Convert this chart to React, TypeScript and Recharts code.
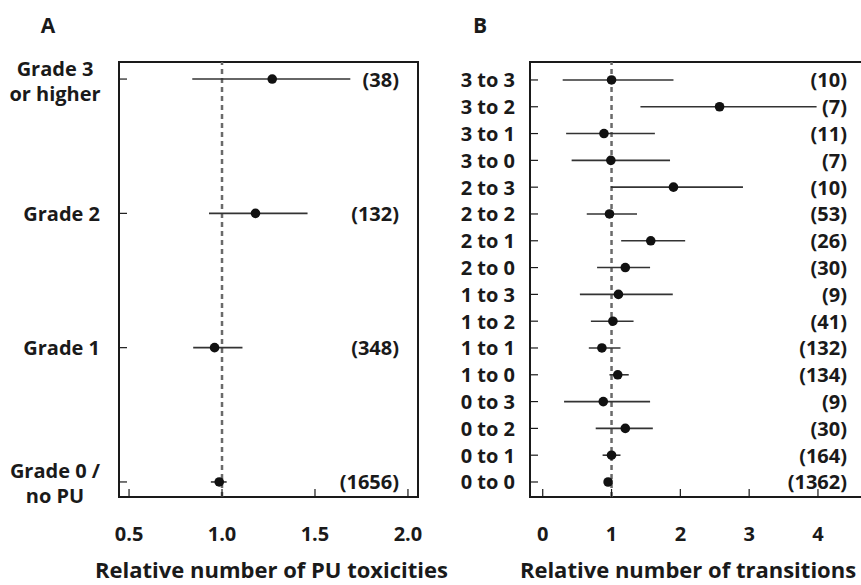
import {
  ScatterChart, Scatter, XAxis, YAxis, ErrorBar, ReferenceLine, ReferenceArea,
} from 'recharts';

const gradeLabels = ['Grade 3\nor higher', 'Grade 2', 'Grade 1', 'Grade 0 /\nno PU'];
const gradeCounts = [38, 132, 348, 1656];
const gradeEst = [1.27, 1.18, 0.96, 0.985];
const gradeLow = [0.84, 0.93, 0.845, 0.94];
const gradeHigh = [1.69, 1.46, 1.11, 1.025];
const gradeTicks = [0.5, 1.0, 1.5, 2.0];

const transLabels = [
  '3 to 3', '3 to 2', '3 to 1', '3 to 0',
  '2 to 3', '2 to 2', '2 to 1', '2 to 0',
  '1 to 3', '1 to 2', '1 to 1', '1 to 0',
  '0 to 3', '0 to 2', '0 to 1', '0 to 0',
];
const transCounts = [10, 7, 11, 7, 10, 53, 26, 30, 9, 41, 132, 134, 9, 30, 164, 1362];
const transEst = [1.0, 2.57, 0.89, 0.99, 1.9, 0.97, 1.57, 1.2, 1.1, 1.02, 0.86, 1.09, 0.88, 1.2, 1.0, 0.95];
const transLow = [0.29, 1.42, 0.34, 0.42, 0.99, 0.64, 1.14, 0.79, 0.54, 0.7, 0.67, 0.97, 0.31, 0.77, 0.87, 0.93];
const transHigh = [1.9, 3.98, 1.63, 1.85, 2.91, 1.37, 2.07, 1.56, 1.89, 1.32, 1.13, 1.25, 1.56, 1.6, 1.13, 0.97];
const transTicks = [0, 1, 2, 3, 4];

const FONT = '"Open Sans", Lato, sans-serif';
const INK = '#1a1a1a';
const TICK_FS = 20;

const toRows = (est: number[], low: number[], high: number[]) =>
  est.map((x, i) => ({ x, y: i, err: [x - low[i], high[i] - x] }));

const gradeData = toRows(gradeEst, gradeLow, gradeHigh);
const transData = toRows(transEst, transLow, transHigh);

const Dot = (p: any) => <circle cx={p.cx} cy={p.cy} r={4.8} fill="#111" />;

const XTick = ({ x, y, payload, fmt }: any) => (
  <g>
    <line x1={x} x2={x} y1={y} y2={y - 8} stroke={INK} strokeWidth={1.2} />
    <text x={x} y={y + 36} textAnchor="middle" dominantBaseline="central"
      fontFamily={FONT} fontWeight={700} fontSize={TICK_FS} fill={INK}>
      {fmt(payload.value)}
    </text>
  </g>
);

const YTick = ({ x, y, payload, labels, counts, countX, labelGap, multiCenter }: any) => {
  const lines: string[] = labels[payload.value].split('\n');
  const txt = { fontFamily: FONT, fontWeight: 700, fontSize: TICK_FS, fill: INK, dominantBaseline: 'central' as const };
  return (
    <g>
      <line x1={x} x2={x + 8} y1={y} y2={y} stroke={INK} strokeWidth={1.2} />
      {lines.length === 1 ? (
        <text x={x - labelGap} y={y} textAnchor="end" {...txt}>{lines[0]}</text>
      ) : (
        lines.map((l, i) => (
          <text key={i} x={x - multiCenter} y={y - 11 + 25 * i} textAnchor="middle" {...txt}>{l}</text>
        ))
      )}
      <text x={x + countX} y={y} textAnchor="end" {...txt}>({counts[payload.value]})</text>
    </g>
  );
};

const boxStroke = { stroke: INK, strokeWidth: 2, fill: 'none' };

function PanelA() {
  const xDom = [0.446, 2.054];
  const yDom = [-0.127, 3.112];
  return (
    <ScatterChart width={430} height={585} margin={{ top: 62, right: 12, bottom: 0, left: 0 }}>
      <XAxis type="number" dataKey="x" domain={xDom} ticks={gradeTicks} height={88}
        axisLine={false} tickLine={false} tickSize={0} tickMargin={0} allowDataOverflow
        tick={<XTick fmt={(v: number) => v.toFixed(1)} />} />
      <YAxis type="number" dataKey="y" domain={yDom} ticks={[0, 1, 2, 3]} reversed width={119}
        axisLine={false} tickLine={false} tickSize={0} tickMargin={0} allowDataOverflow
        tick={<YTick labels={gradeLabels} counts={gradeCounts} countX={280} labelGap={19} multiCenter={64} />} />
      <ReferenceLine x={1} stroke="#6a6a6a" strokeWidth={2.5} strokeDasharray="5 4" />
      <ReferenceArea x1={xDom[0]} x2={xDom[1]} y1={yDom[0]} y2={yDom[1]} {...boxStroke} fillOpacity={0} />
      <Scatter data={gradeData} shape={Dot} isAnimationActive={false}>
        <ErrorBar dataKey="err" direction="x" width={0} stroke="#333" strokeWidth={1.6} />
      </Scatter>
    </ScatterChart>
  );
}

function PanelB() {
  const xDom = [-0.185, 4.64];
  const yDom = [-0.67, 15.56];
  return (
    <ScatterChart width={432} height={585} margin={{ top: 62, right: 0, bottom: 0, left: 0 }}>
      <XAxis type="number" dataKey="x" domain={xDom} ticks={transTicks} height={88}
        axisLine={false} tickLine={false} tickSize={0} tickMargin={0} allowDataOverflow
        tick={<XTick fmt={(v: number) => String(v)} />} />
      <YAxis type="number" dataKey="y" domain={yDom} ticks={transLabels.map((_, i) => i)} reversed width={100}
        axisLine={false} tickLine={false} tickSize={0} tickMargin={0} allowDataOverflow interval={0}
        tick={<YTick labels={transLabels} counts={transCounts} countX={317} labelGap={15} multiCenter={0} />} />
      <ReferenceLine x={1} stroke="#6a6a6a" strokeWidth={2.5} strokeDasharray="5 4" />
      <ReferenceArea x1={xDom[0]} x2={xDom[1]} y1={yDom[0]} y2={yDom[1]} {...boxStroke} fillOpacity={0} />
      <Scatter data={transData} shape={Dot} isAnimationActive={false}>
        <ErrorBar dataKey="err" direction="x" width={0} stroke="#333" strokeWidth={1.6} />
      </Scatter>
    </ScatterChart>
  );
}

const textStyle = {
  position: 'absolute' as const, fontFamily: FONT, fontWeight: 700, color: INK, whiteSpace: 'nowrap' as const,
};

export default function App() {
  return (
    <div style={{ position: 'fixed', left: 0, top: 0, width: 861, height: 585, background: '#fff', overflow: 'hidden' }}>
      <div style={{ position: 'absolute', left: 0, top: 0 }}><PanelA /></div>
      <div style={{ position: 'absolute', left: 430, top: 0 }}><PanelB /></div>
      <div style={{ ...textStyle, left: 36, top: 11, width: 24, textAlign: 'center', fontSize: 21, lineHeight: '28px' }}>A</div>
      <div style={{ ...textStyle, left: 468, top: 11, width: 24, textAlign: 'center', fontSize: 21, lineHeight: '28px' }}>B</div>
      <div style={{ ...textStyle, left: 0, top: 557, width: 543, textAlign: 'center', fontSize: 22, lineHeight: '24px' }}>
        Relative number of PU toxicities
      </div>
      <div style={{ ...textStyle, left: 518, top: 557, width: 340, textAlign: 'center', fontSize: 22, lineHeight: '24px' }}>
        Relative number of transitions
      </div>
    </div>
  );
}
